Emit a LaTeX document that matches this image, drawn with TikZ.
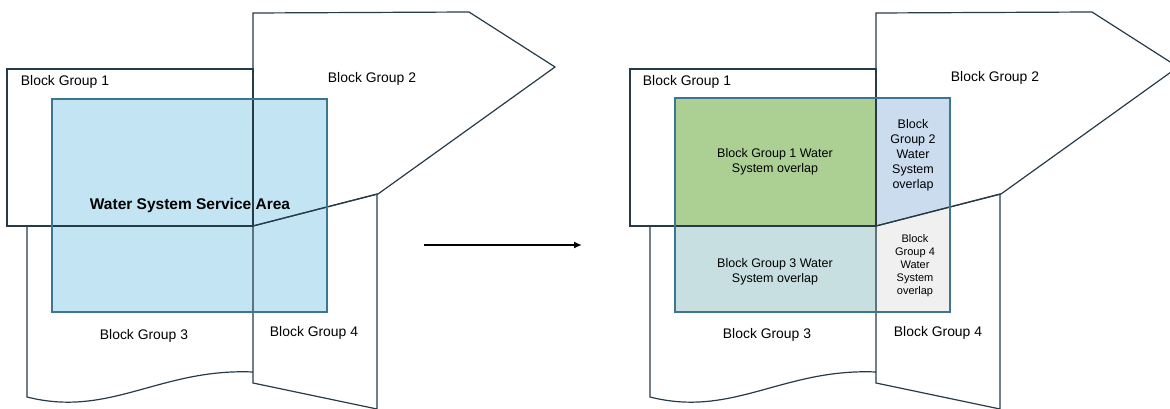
\documentclass[tikz,border=0pt]{standalone}
\usepackage{fontspec}
\setmainfont{Liberation Sans}
\usepackage{xcolor}
\usepackage{tikz}
\usetikzlibrary{arrows.meta,positioning,calc}

\definecolor{blockline}{RGB}{38,58,72}
\definecolor{arealine}{RGB}{62,118,146}
\definecolor{waterfill}{RGB}{194,228,243}
\definecolor{bgonefill}{RGB}{172,208,148}
\definecolor{bgtwofill}{RGB}{202,220,238}
\definecolor{bgthreefill}{RGB}{199,223,224}
\definecolor{bgfourfill}{RGB}{240,240,240}

\tikzset{
    block/.style={draw=blockline, line width=1.2pt, line join=miter},
    area/.style={draw=arealine, line width=1.2pt},
    bglabel/.style={font=\fontsize{13.9}{16}\selectfont},
    overlap/.style={font=\fontsize{12.5}{15}\selectfont, align=center},
    smalloverlap/.style={font=\fontsize{11}{13}\selectfont, align=center}
}

\begin{document}
\begin{tikzpicture}[x=1pt, y=-1pt]
    \useasboundingbox (0,0) rectangle (1170,409);
    \clip (0,0) rectangle (1170,409);

    % Water system service area (left)
    \fill[waterfill] (52,99) rectangle (327,312);

    % Overlap areas (right)
    \fill[bgonefill] (675,98) rectangle (877,226);
    \fill[bgthreefill] (675,226) rectangle (877,312);
    \fill[bgtwofill] (877,98) -- (950,98) -- (950,207) -- (877,226) -- cycle;
    \fill[bgfourfill] (877,226) -- (950,207) -- (950,312) -- (877,312) -- cycle;

    % Block group outlines, both panels
    \foreach \dx in {0,623} {
        \begin{scope}[xshift=\dx pt]
            \draw[block] (7,69) rectangle (253,226);
            \draw[block] (253,226) -- (253,13) -- (469,12) -- (555,67) -- (378,194) -- cycle;
            \draw[block] (27,226) -- (27,397) .. controls (110,418) and (160,368) .. (253,372);
            \draw[block] (253,226) -- (377,194) -- (377,409) -- (253,383) -- cycle;
        \end{scope}
    }

    % Service area borders
    \draw[area] (52,99) rectangle (327,312);
    \draw[area] (675,98) rectangle (950,312);

    % Labels (left)
    \node[bglabel] (bgoneL) at (65,82) {Block Group 1};
    \node[bglabel] (bgtwoL) at (372,79) {Block Group 2};
    \node[bglabel] (bgthreeL) at (144,336) {Block Group 3};
    \node[bglabel] (bgfourL) at (314,333) {Block Group 4};
    \node[font=\fontsize{15.5}{18}\selectfont\bfseries] (serviceL) at (190,205) {Water System Service Area};

    % Labels (right)
    \node[bglabel] (bgoneR) at (687,82) {Block Group 1};
    \node[bglabel] (bgtwoR) at (995,78) {Block Group 2};
    \node[bglabel] (bgthreeR) at (767,335) {Block Group 3};
    \node[bglabel] (bgfourR) at (938,333) {Block Group 4};
    \node[overlap] (ovone) at (775,162) {Block Group 1 Water\\System overlap};
    \node[overlap] (ovtwo) at (913,155) {Block\\Group 2\\Water\\System\\overlap};
    \node[overlap] (ovthree) at (775,272) {Block Group 3 Water\\System overlap};
    \node[smalloverlap] (ovfour) at (915,266) {Block\\Group 4\\Water\\System\\overlap};

    % Arrow
    \coordinate (arrowtail) at (424,245);
    \coordinate (arrowhead) at (582,245);
    \draw[line width=1.8pt, -{Latex[length=8pt,width=7pt]}] (arrowtail) -- (arrowhead);

\end{tikzpicture}
\end{document}
